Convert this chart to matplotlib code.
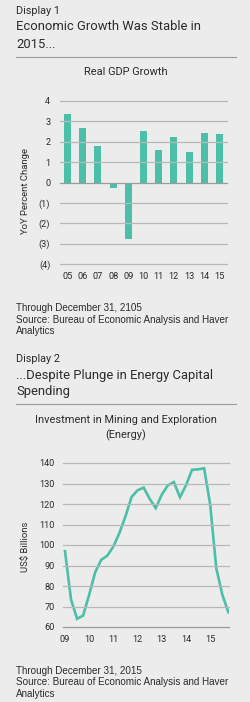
import numpy as np
import matplotlib
matplotlib.use("Agg")
import matplotlib.pyplot as plt
from matplotlib.lines import Line2D

# ---- data ----
gdp_years = ["05", "06", "07", "08", "09", "10", "11", "12", "13", "14", "15"]
gdp_growth = [3.35, 2.66, 1.77, -0.28, -2.78, 2.53, 1.59, 2.22, 1.49, 2.43, 2.38]
gdp_ticks = [4, 3, 2, 1, 0, -1, -2, -3, -4]
gdp_ticklabels = ["4", "3", "2", "1", "0", "(1)", "(2)", "(3)", "(4)"]

# quarterly, 2009 Q1 .. 2015 Q4
invest_quarters = 2009 + np.arange(28) / 4
invest_values = [97, 73.3, 64, 65.6, 75.8, 86.8, 92.8, 94.8, 99.3, 105.9,
                 114, 123.4, 126.7, 128, 122.5, 118, 124.6, 129.1, 130.7, 123.3,
                 129.1, 136.7, 136.9, 137.4, 119.7, 88.8, 75.8, 67.2]
invest_years = [2009, 2010, 2011, 2012, 2013, 2014, 2015]
invest_yearlabels = ["09", "10", "11", "12", "13", "14", "15"]

W, H = 250, 702
BG = "#ececec"
TEAL = "#4cbfa8"
TXT = "#2b2b2b"
GRID = "#b8b8b8"

title_font = ["Roboto", "DejaVu Sans"]
note_font = ["Liberation Sans", "DejaVu Sans"]

fig = plt.figure(figsize=(W / 100, H / 100), dpi=100, facecolor=BG)


def px(x, y):
    return x / W, 1 - y / H


def text(x, y, s, size, family, ha="left", **kw):
    fig.text(*px(x, y), s, fontsize=size, family=family, ha=ha, va="center",
             color=TXT, **kw)


def rule(y):
    fig.add_artist(Line2D([16 / W, 236 / W], [1 - y / H, 1 - y / H],
                          color="#9a9a9a", lw=0.8, transform=fig.transFigure))


def hgrid(ax, y_data, color):
    # draw a horizontal gridline across the axes in figure space
    y_fig = fig.transFigure.inverted().transform(ax.transData.transform((0, y_data)))[1]
    x0, x1 = ax.get_position().x0, ax.get_position().x1
    fig.add_artist(Line2D([x0, x1], [y_fig, y_fig], color=color, lw=0.9,
                          transform=fig.transFigure, zorder=0.5))


def axes_px(left, top, right, bottom):
    ax = fig.add_axes([left / W, 1 - bottom / H, (right - left) / W, (bottom - top) / H])
    ax.patch.set_visible(False)
    for s in ax.spines.values():
        s.set_visible(False)
    ax.tick_params(length=0, labelsize=6.6, colors=TXT)
    return ax


# ---- Display 1 ----
text(16, 11, "Display 1", 7.8, title_font)
text(16, 27, "Economic Growth Was Stable in", 9.4, title_font)
text(16, 44, "2015...", 9.4, title_font)
rule(57)
text(126, 72, "Real GDP Growth", 7.9, title_font, ha="center")

ax1 = axes_px(60, 101, 227, 264)
x = np.arange(len(gdp_years))
ax1.bar(x, gdp_growth, width=0.46, color=TEAL, zorder=2)
ax1.set_xlim(-0.5, len(gdp_years) - 0.5)
ax1.set_ylim(-4, 4)
ax1.set_yticks(gdp_ticks, gdp_ticklabels, family=title_font)
ax1.set_xticks(x, gdp_years, family=title_font)
ax1.tick_params(axis="y", pad=7)
ax1.tick_params(axis="x", pad=6)
for t in gdp_ticks:
    hgrid(ax1, t, "#9c9c9c" if t == 0 else GRID)
text(26, 191, "YoY Percent Change", 6.8, title_font, ha="center", rotation=90)

text(16, 308, "Through December 31, 2105", 7.1, note_font)
text(16, 320, "Source: Bureau of Economic Analysis and Haver", 7.1, note_font)
text(16, 331, "Analytics", 7.1, note_font)

# ---- Display 2 ----
text(16, 359, "Display 2", 7.8, title_font)
text(16, 375, "...Despite Plunge in Energy Capital", 9.4, title_font)
text(16, 392, "Spending", 9.4, title_font)
rule(404)
text(126, 420, "Investment in Mining and Exploration", 7.9, title_font, ha="center")
text(126, 435, "(Energy)", 7.9, title_font, ha="center")

ax2 = axes_px(63, 463, 229, 627)
ax2.plot(invest_quarters, invest_values, color=TEAL, lw=1.9, zorder=2,
         solid_joinstyle="miter")
ax2.set_xlim(2009 - 2 / 24.2, 2009 + 164 / 24.2)
ax2.set_ylim(60, 140)
ax2.set_yticks(range(60, 150, 10), [str(t) for t in range(60, 150, 10)], family=title_font)
ax2.set_xticks(invest_years, invest_yearlabels, family=title_font)
ax2.tick_params(axis="y", pad=6)
ax2.tick_params(axis="x", pad=6)
for t in range(60, 150, 10):
    hgrid(ax2, t, "#9c9c9c" if t == 60 else GRID)
text(26, 547, "US$ Billions", 6.8, title_font, ha="center", rotation=90)

text(16, 671, "Through December 31, 2015", 7.1, note_font)
text(16, 682, "Source: Bureau of Economic Analysis and Haver", 7.1, note_font)
text(16, 694, "Analytics", 7.1, note_font)

fig.savefig("out.png", dpi=100, facecolor=BG)
